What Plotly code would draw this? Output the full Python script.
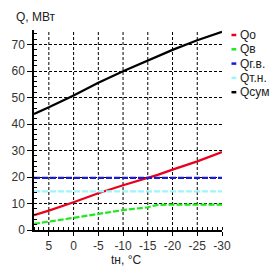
import plotly.graph_objects as go

t = [8, 5, 0, -5, -10, -15, -17, -20, -25, -30]
q_o = [5.6, 7.3, 10.5, 13.9, 16.9, 19.6, 20.8, 22.8, 25.9, 29.4]
q_v = [2.3, 3.2, 4.6, 6.0, 7.5, 8.6, 9.5, 9.6, 9.6, 9.6]
q_gv = [19.7] * len(t)
q_tn = [14.6] * len(t)
q_sum = [43.8, 46.3, 50.8, 55.6, 59.9, 64.0, 65.6, 68.0, 71.6, 74.8]

x_ticks = [5, 0, -5, -10, -15, -20, -25, -30]
x_grid = [5, 0, -5, -10, -15, -20, -25]
y_ticks = [0, 10, 20, 30, 40, 50, 60, 70]

names = ["Qo", "Qв", "Qг.в.", "Qт.н.", "Qсум"]
colors = ["#e8001c", "#1ee81e", "#1a1ad8", "#9ff6f6", "#000000"]
dashes = ["solid", "6px,2px", "6px,2px", "6px,2px", "solid"]
series = [q_o, q_v, q_gv, q_tn, q_sum]

fig = go.Figure()

# vertical grid lines (none at the right edge)
for gx in x_grid:
    fig.add_shape(type="line", xref="x", yref="paper", x0=gx, x1=gx, y0=0, y1=1,
                  line=dict(color="black", width=1, dash="3px,2px"), layer="below")

for nm, c, d, s in zip(names, colors, dashes, series):
    fig.add_trace(go.Scatter(x=t, y=s, mode="lines", name=nm,
                             line=dict(color=c, width=2.2, dash=d),
                             showlegend=False))

# legend drawn manually
leg_y0 = 35
leg_dy = 14.3
H, top, bot = 274, 30, 44
plot_h = H - top - bot
for i, (nm, c) in enumerate(zip(names, colors)):
    py = leg_y0 + i * leg_dy
    yp = 1 - (py - top) / plot_h
    fig.add_shape(type="line", xref="paper", yref="paper",
                  x0=1.0505, x1=1.076, y0=yp, y1=yp,
                  line=dict(color=c, width=2.5))
    fig.add_annotation(xref="paper", yref="paper", x=1.085, y=yp,
                       text=nm, showarrow=False, xanchor="left",
                       yanchor="middle",
                       font=dict(size=12, color="#222222",
                                 family="Liberation Sans, Arial"))

fig.add_annotation(xref="paper", yref="paper", x=-0.105, y=1.065,
                   text="Q, МВт", showarrow=False, xanchor="left",
                   yanchor="middle",
                   font=dict(size=12, color="#222222", family="Liberation Sans, Arial"))
fig.add_annotation(xref="paper", yref="paper", x=0.49, y=-0.15,
                   text="tн, °C", showarrow=False, xanchor="center",
                   yanchor="middle",
                   font=dict(size=12, color="#222222", family="Liberation Sans, Arial"))

fig.update_layout(
    width=278, height=274,
    margin=dict(l=34, r=56, t=top, b=bot),
    plot_bgcolor="white", paper_bgcolor="white",
    font=dict(family="Liberation Sans, Arial", size=12, color="#333333"),
)
fig.update_xaxes(range=[8, -30], tickvals=x_ticks,
                 ticktext=[str(v) for v in x_ticks],
                 showgrid=False,
                 showline=True, linecolor="black", linewidth=1.5,
                 ticks="outside", ticklen=4, tickcolor="black",
                 minor=dict(dtick=1, tick0=0, ticks="inside", ticklen=3,
                            tickcolor="black", showgrid=False),
                 zeroline=False)
fig.update_yaxes(range=[0, 75.5], tickvals=y_ticks,
                 showgrid=True, gridcolor="black", griddash="3px,2px", gridwidth=1,
                 showline=True, linecolor="black", linewidth=1.5,
                 ticks="outside", ticklen=5, tickcolor="black",
                 minor=dict(dtick=2, tick0=0, ticks="inside", ticklen=3,
                            tickcolor="black", showgrid=False),
                 zeroline=False)

fig.write_html("out.html")
